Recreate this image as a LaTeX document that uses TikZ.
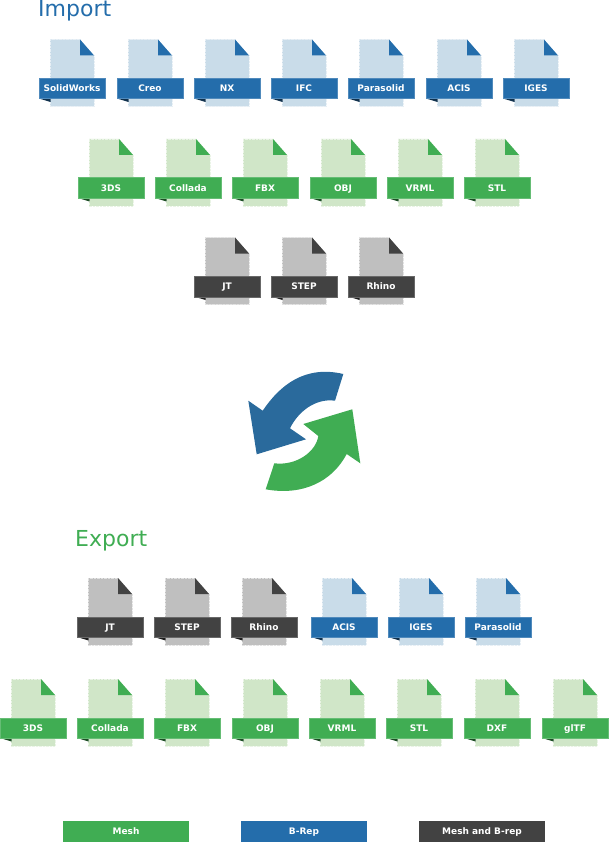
\documentclass[tikz,border=0pt]{standalone}
\usepackage{fontspec}
\setmainfont{DejaVu Sans}
\usepackage{xcolor}
\usetikzlibrary{positioning}
\definecolor{fileBlue}{HTML}{246DAB}
\definecolor{fileGreen}{HTML}{40AD53}
\definecolor{fileGrey}{HTML}{424242}
\definecolor{pageBlue}{HTML}{C9DCE9}
\definecolor{pageGreen}{HTML}{D0E6C8}
\definecolor{pageGrey}{HTML}{BFBFBF}
\definecolor{arrowBlue}{HTML}{2A6A9C}
\tikzset{
  banner/.style={minimum width=65.5pt, minimum height=20.5pt, inner sep=0pt, text=white,
    text height=6.6pt, text depth=0pt, font=\fontsize{9}{9}\selectfont\bfseries, line width=0.5pt},
  legendbox/.style={banner, minimum width=126pt},
  heading/.style={anchor=base west, inner sep=0pt, font=\fontsize{22}{22}\selectfont},
}
% #1 name, #2 centre x, #3 top y, #4 label, #5 page colour, #6 banner colour
\newcommand{\fileicon}[6]{
  \fill[#5] (#2-22,#3) -- (#2+8,#3) -- (#2+22,#3+16) -- (#2+22,#3+67) -- (#2-22,#3+67) -- cycle;
  \draw[#5!45!white, densely dotted, line width=0.4pt] (#2+8,#3) -- (#2-22,#3) -- (#2-22,#3+67) -- (#2+22,#3+67) -- (#2+22,#3+16);
  \fill[#6] (#2+8,#3) -- (#2+22,#3+16) -- (#2+8,#3+16) -- cycle;
  \fill[#6!45!black] (#2-33,#3+59) -- (#2-21.5,#3+62.5) -- (#2-21.5,#3+59) -- cycle;
  \node[banner, fill=#6, draw=#6!80!white] (#1) at (#2,#3+49) {#4};
}
\begin{document}
\begin{tikzpicture}[x=1pt,y=-1pt]
  \useasboundingbox (0,0) rectangle (608,842);
  \node[heading, text=fileBlue] (importtitle) at (38,16.5) {Import};
  \node[heading, text=fileGreen] (exporttitle) at (75,546) {Export};
  % import
  \foreach \nm/\cx in {SolidWorks/72,Creo/150,NX/227,IFC/304,Parasolid/381,ACIS/459,IGES/536}
    \fileicon{imp\nm}{\cx}{39.5}{\nm}{pageBlue}{fileBlue};
  \foreach \nm/\cx in {3DS/111,Collada/188,FBX/265,OBJ/343,VRML/420,STL/497}
    \fileicon{imp\nm}{\cx}{139}{\nm}{pageGreen}{fileGreen};
  \foreach \nm/\cx in {JT/227,STEP/304,Rhino/381}
    \fileicon{imp\nm}{\cx}{237.5}{\nm}{pageGrey}{fileGrey};
  % arrows
  \fill[arrowBlue] (343.3,374) -- (335,400.7) .. controls (315,398) and (298,412) .. (290,428.3)
    -- (306,439.3) -- (256.7,454.3) -- (248.3,400.7) -- (262.7,410.7)
    .. controls (280,385) and (305,365) .. cycle;
  \fill[fileGreen] (265.7,489.3) -- (274.3,463.3) .. controls (296,466) and (316,452) .. (318.3,436)
    -- (303.3,424) -- (352.3,409.3) -- (360.3,463.3) -- (346.7,454)
    .. controls (332,482) and (302,496) .. cycle;
  % export
  \foreach \nm/\cx in {JT/110,STEP/187,Rhino/264}
    \fileicon{exp\nm}{\cx}{578}{\nm}{pageGrey}{fileGrey};
  \foreach \nm/\cx in {ACIS/344,IGES/421,Parasolid/498}
    \fileicon{exp\nm}{\cx}{578}{\nm}{pageBlue}{fileBlue};
  \foreach \nm/\cx in {3DS/33,Collada/110,FBX/187,OBJ/265,VRML/342,STL/419,DXF/497,glTF/575}
    \fileicon{exp\nm}{\cx}{679}{\nm}{pageGreen}{fileGreen};
  % legend
  \node[legendbox, fill=fileGreen] (legmesh) at (126,831.5) {Mesh};
  \node[legendbox, fill=fileBlue] (legbrep) at (304,831.5) {B-Rep};
  \node[legendbox, fill=fileGrey] (legboth) at (482,831.5) {Mesh and B-rep};
\end{tikzpicture}
\end{document}
